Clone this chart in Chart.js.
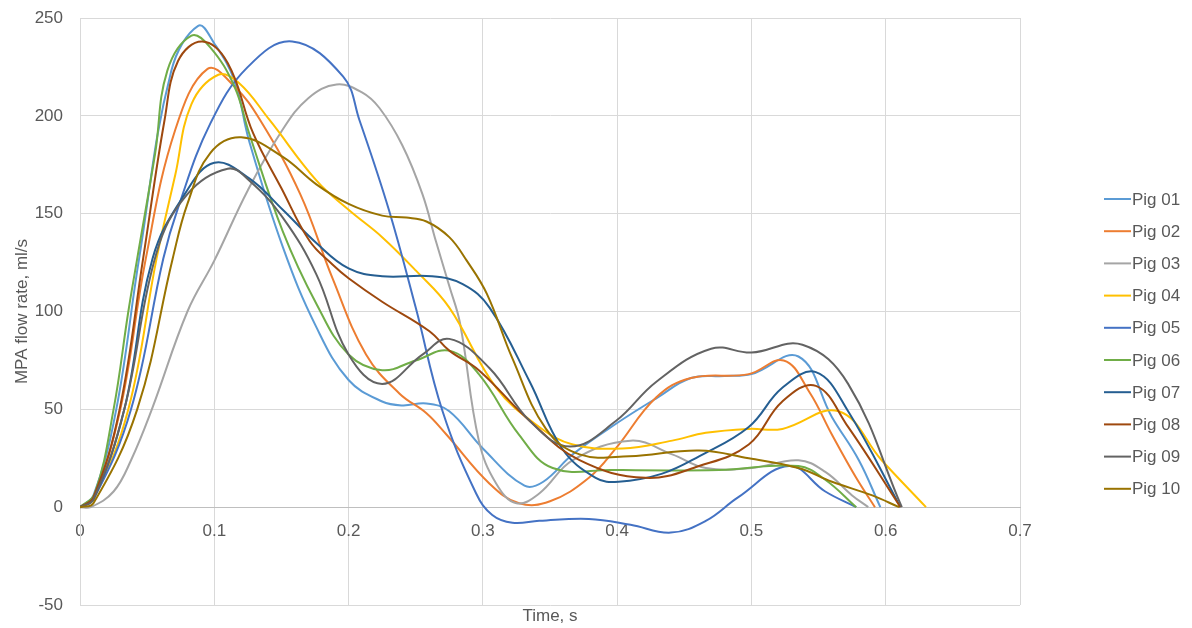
<!doctype html>
<html lang="en">

<head>
    <meta charset="utf-8">
    <title>MPA flow rate</title>
    <style>
        * {
            margin: 0;
            padding: 0;
        }

        body {
            background: #fff;
        }

        .chartBox {
            width: 1192px;
            height: 628px;
        }
    </style>
</head>

<body>
    <div class="chartBox">
        <canvas id="myChart" width="1192" height="628"></canvas>
    </div>

    <script src="https://cdn.jsdelivr.net/npm/chart.js"></script>

    <script>
        const labels = ['Pig 01', 'Pig 02', 'Pig 03', 'Pig 04', 'Pig 05', 'Pig 06', 'Pig 07', 'Pig 08', 'Pig 09', 'Pig 10']
        const colors = ['#5B9BD5', '#ED7D31', '#A5A5A5', '#FFC000', '#4472C4', '#70AD47', '#255E91', '#9E480E', '#636363', '#997300']

        // time (s) and MPA flow (ml/s), one pair per pig
        const pig01Time = [0, 0.01, 0.027, 0.044, 0.068, 0.088, 0.1, 0.115, 0.126, 0.151, 0.176, 0.2, 0.225, 0.24, 0.258, 0.275, 0.3, 0.331, 0.345, 0.367, 0.4, 0.43, 0.455, 0.48, 0.5, 0.535, 0.56, 0.58, 0.596]
        const pig01Flow = [0, 6, 50, 127, 223, 246, 237, 218, 187, 133, 92, 65, 54, 52, 53, 49, 30, 11, 13, 27, 43, 56, 66, 67, 68, 77, 46, 24, 0]

        const pig02Time = [0, 0.01, 0.03, 0.049, 0.071, 0.095, 0.115, 0.134, 0.164, 0.188, 0.213, 0.238, 0.258, 0.273, 0.305, 0.327, 0.35, 0.379, 0.399, 0.429, 0.455, 0.498, 0.524, 0.543, 0.56, 0.578, 0.592]
        const pig02Flow = [0, 5, 50, 127, 193, 224, 215, 198, 160, 117, 78, 58, 48, 37, 12, 2, 3, 15, 30, 56, 66, 68, 75, 59, 37, 15, 0]

        const pig03Time = [0, 0.008, 0.025, 0.038, 0.0535, 0.08, 0.1, 0.125, 0.15, 0.17, 0.191, 0.21, 0.223, 0.24, 0.255, 0.265, 0.275, 0.283, 0.297, 0.31, 0.325, 0.342, 0.367, 0.41, 0.441, 0.466, 0.5, 0.535, 0.555, 0.575, 0.587]
        const pig03Flow = [0, 0, 8, 24, 50, 100, 126, 162, 192, 209, 216, 212, 204, 185, 160, 136, 113, 94, 34, 12, 2, 7, 24, 34, 27, 20, 20, 24, 18, 6, 0]

        const pig04Time = [0, 0.01, 0.036, 0.057, 0.071, 0.083, 0.103, 0.118, 0.141, 0.176, 0.2, 0.225, 0.25, 0.275, 0.31, 0.342, 0.367, 0.404, 0.441, 0.466, 0.498, 0.523, 0.565, 0.597, 0.63]
        const pig04Flow = [0, 4, 50, 127, 170, 206, 221, 217, 198, 167, 152, 138, 121, 102, 61, 41, 32, 30, 34, 38, 40, 40, 49, 24, 0]

        const pig05Time = [0, 0.01, 0.038, 0.062, 0.073, 0.097, 0.125, 0.158, 0.196, 0.208, 0.23, 0.25, 0.27, 0.295, 0.307, 0.322, 0.342, 0.379, 0.41, 0.44, 0.466, 0.49, 0.528, 0.555, 0.578]
        const pig05Flow = [0, 4, 50, 127, 153, 196, 225, 238, 220, 198, 152, 102, 49, 7, -4, -8, -7, -6, -9, -13, -7, 5, 21, 8, 0]

        const pig06Time = [0, 0.011, 0.025, 0.036, 0.0426, 0.056, 0.065, 0.083, 0.097, 0.115, 0.126, 0.151, 0.176, 0.2, 0.225, 0.25, 0.275, 0.297, 0.327, 0.352, 0.396, 0.476, 0.535, 0.555, 0.578]
        const pig06Flow = [0, 7, 50, 100, 127, 181, 223, 241, 235, 215, 191, 141, 104, 78, 70, 75, 80, 68, 37, 20, 19, 19, 21, 14, 0]

        const pig07Time = [0, 0.01, 0.033, 0.054, 0.078, 0.1, 0.126, 0.151, 0.176, 0.2, 0.225, 0.262, 0.285, 0.305, 0.335, 0.359, 0.384, 0.401, 0.433, 0.461, 0.498, 0.523, 0.548, 0.572, 0.611]
        const pig07Flow = [0, 4, 50, 127, 160, 176, 168, 152, 135, 122, 118, 118, 114, 102, 64, 30, 15, 13, 17, 26, 41, 61, 69, 49, 0]

        const pig08Time = [0, 0.01, 0.0295, 0.047, 0.063, 0.073, 0.091, 0.11, 0.129, 0.15, 0.171, 0.188, 0.2, 0.225, 0.26, 0.275, 0.297, 0.335, 0.372, 0.421, 0.461, 0.498, 0.523, 0.548, 0.572, 0.611]
        const pig08Flow = [0, 5, 50, 127, 198, 228, 238, 227, 191, 163, 136, 124, 117, 105, 90, 80, 70, 44, 24, 15, 21, 32, 54, 62, 41, 0]

        const pig09Time = [0, 0.01, 0.033, 0.057, 0.08, 0.11, 0.126, 0.151, 0.176, 0.2, 0.225, 0.255, 0.275, 0.305, 0.335, 0.365, 0.399, 0.429, 0.47, 0.5, 0.538, 0.572, 0.612]
        const pig09Flow = [0, 4, 50, 130, 160, 173, 167, 148, 119, 78, 63, 78, 86, 71, 44, 31, 44, 64, 81, 79, 83, 63, 0]

        const pig10Time = [0, 0.01, 0.0426, 0.069, 0.08, 0.097, 0.12, 0.151, 0.176, 0.2, 0.225, 0.243, 0.258, 0.275, 0.288, 0.303, 0.322, 0.347, 0.372, 0.409, 0.461, 0.498, 0.535, 0.56, 0.59, 0.61]
        const pig10Flow = [0, 2, 50, 127, 155, 181, 189, 179, 165, 155, 149, 148, 146, 138, 126, 109, 76, 40, 27, 26, 29, 25, 20, 13, 6, 0]

        const times = [pig01Time, pig02Time, pig03Time, pig04Time, pig05Time, pig06Time, pig07Time, pig08Time, pig09Time, pig10Time]
        const flows = [pig01Flow, pig02Flow, pig03Flow, pig04Flow, pig05Flow, pig06Flow, pig07Flow, pig08Flow, pig09Flow, pig10Flow]

        const xTicks = [0, 0.1, 0.2, 0.3, 0.4, 0.5, 0.6, 0.7]
        const yTicks = [-50, 0, 50, 100, 150, 200, 250]

        const fontFamily = '"Liberation Sans", Arial, sans-serif'
        const fontSize = 17
        const textColor = '#595959'
        const gridColor = '#d9d9d9'

        const dataSets = labels.map((label, index) => {
            return {
                label: label,
                data: times[index].map((t, k) => ({ x: t, y: flows[index][k] })),
                borderColor: colors[index],
                backgroundColor: colors[index],
                borderWidth: 2,
                pointRadius: 0,
                tension: 0.4,
                order: labels.length - index
            }
        })

        // legend drawn by hand so it can sit away from the plot like in Excel
        const sideLegend = {
            id: 'sideLegend',
            afterDraw(chart) {
                const ctx = chart.ctx
                ctx.save()
                ctx.font = fontSize + 'px ' + fontFamily
                ctx.textBaseline = 'middle'
                chart.data.datasets.forEach((ds, i) => {
                    const y = 199 + i * 32.2
                    ctx.strokeStyle = ds.borderColor
                    ctx.lineWidth = 2
                    ctx.beginPath()
                    ctx.moveTo(1104, y)
                    ctx.lineTo(1131, y)
                    ctx.stroke()
                    ctx.fillStyle = textColor
                    ctx.fillText(ds.label, 1132, y + 1)
                })
                ctx.restore()
            }
        }

        const config = {
            type: 'line',
            data: { datasets: dataSets },
            options: {
                responsive: false,
                animation: false,
                devicePixelRatio: 1,
                layout: { padding: { top: 18, right: 172, left: 0, bottom: 0 } },
                plugins: {
                    legend: { display: false },
                    tooltip: { enabled: false }
                },
                scales: {
                    x: {
                        type: 'linear',
                        min: 0,
                        max: 0.7,
                        position: { y: 0 },
                        afterBuildTicks: s => { s.ticks = xTicks.map(v => ({ value: v })) },
                        grid: { color: gridColor, drawTicks: false },
                        border: { color: '#bfbfbf', width: 1 },
                        ticks: {
                            color: textColor,
                            font: { size: fontSize, family: fontFamily },
                            padding: 14,
                            maxRotation: 0,
                            autoSkip: false,
                            callback: v => String(v)
                        },
                        afterFit: s => { s.paddingLeft = 0; s.paddingRight = 0 }
                    },
                    xTitle: {
                        type: 'linear',
                        min: 0,
                        max: 0.7,
                        position: 'bottom',
                        grid: { display: false },
                        border: { display: false },
                        ticks: { display: false },
                        title: {
                            display: true,
                            text: 'Time, s',
                            color: textColor,
                            font: { size: fontSize, family: fontFamily },
                            padding: { top: 0, bottom: 1 }
                        },
                        afterFit: s => { s.height = 23 }
                    },
                    y: {
                        type: 'linear',
                        min: -50,
                        max: 250,
                        afterBuildTicks: s => { s.ticks = yTicks.map(v => ({ value: v })) },
                        grid: { color: gridColor, drawTicks: false },
                        border: { color: gridColor },
                        ticks: {
                            color: textColor,
                            font: { size: fontSize, family: fontFamily },
                            padding: 17
                        },
                        title: {
                            display: true,
                            text: 'MPA flow rate, ml/s',
                            color: textColor,
                            font: { size: fontSize, family: fontFamily },
                            padding: { top: 12, bottom: 0 }
                        },
                        afterFit: s => {
                            s.width = 80
                            s.paddingTop = 0
                            s.paddingBottom = 0
                        }
                    }
                }
            },
            plugins: [sideLegend]
        };

        const myChart = new Chart(
            document.getElementById('myChart'),
            config
        );
    </script>
</body>

</html>
